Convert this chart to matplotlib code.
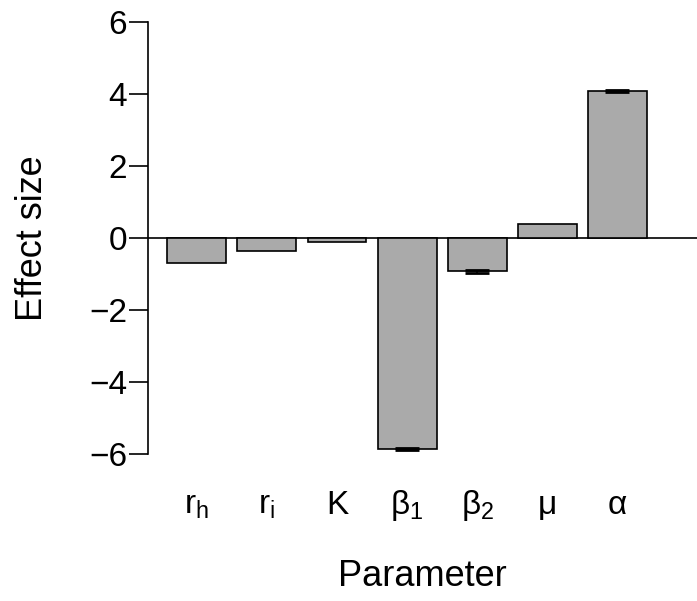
import matplotlib
matplotlib.use("Agg")
import matplotlib.pyplot as plt

plt.rcParams["font.family"] = ["Liberation Sans", "DejaVu Sans"]
plt.rcParams["mathtext.fontset"] = "custom"
plt.rcParams["mathtext.rm"] = "Liberation Sans"
plt.rcParams["mathtext.it"] = "Liberation Sans:italic"

params = ["r$_\\mathrm{h}$", "r$_\\mathrm{i}$", "K", "β$_\\mathrm{1}$", "β$_\\mathrm{2}$", "μ", "α"]
effect = [-0.70, -0.37, -0.10, -5.87, -0.93, 0.40, 4.08]
err = [0.0, 0.0, 0.0, 0.03, 0.03, 0.0, 0.03]
yticks = [-6, -4, -2, 0, 2, 4, 6]

fig = plt.figure(figsize=(6.97, 6.01), dpi=100)
ax = fig.add_axes([0.2123, 0.2446, 0.7877, 0.7188])

x = list(range(len(params)))
ax.bar(x, effect, width=0.84, color="#aaaaaa", edgecolor="black", linewidth=1.2, zorder=2)

# only the bars that have a visible error
ex = [i for i in x if err[i] > 0]
ax.errorbar(ex, [effect[i] for i in ex], yerr=[err[i] for i in ex], fmt="none",
            ecolor="black", elinewidth=1.2, capsize=8.5, capthick=2, zorder=3)
ax.axhline(0, color="black", linewidth=1.2, zorder=1)

ax.set_xlim(-0.695, 7.134)
ax.set_ylim(-6, 6)
ax.set_yticks(yticks)
ax.set_yticklabels([str(t).replace("-", "\u2212") for t in yticks])
ax.set_xticks(x)
ax.set_xticklabels(params)

for s in ["top", "right", "bottom"]:
    ax.spines[s].set_visible(False)
ax.spines["left"].set_linewidth(1.2)
ax.tick_params(axis="y", length=14, width=1.2, labelsize=24, pad=1)
ax.tick_params(axis="x", length=0, labelsize=24, pad=43)
for lbl in ax.get_xticklabels():
    lbl.set_verticalalignment("baseline")

ax.set_ylabel("Effect size", fontsize=26, labelpad=28)
ax.set_xlabel("Parameter", fontsize=26, labelpad=26)

fig.savefig("out.png", dpi=100)
